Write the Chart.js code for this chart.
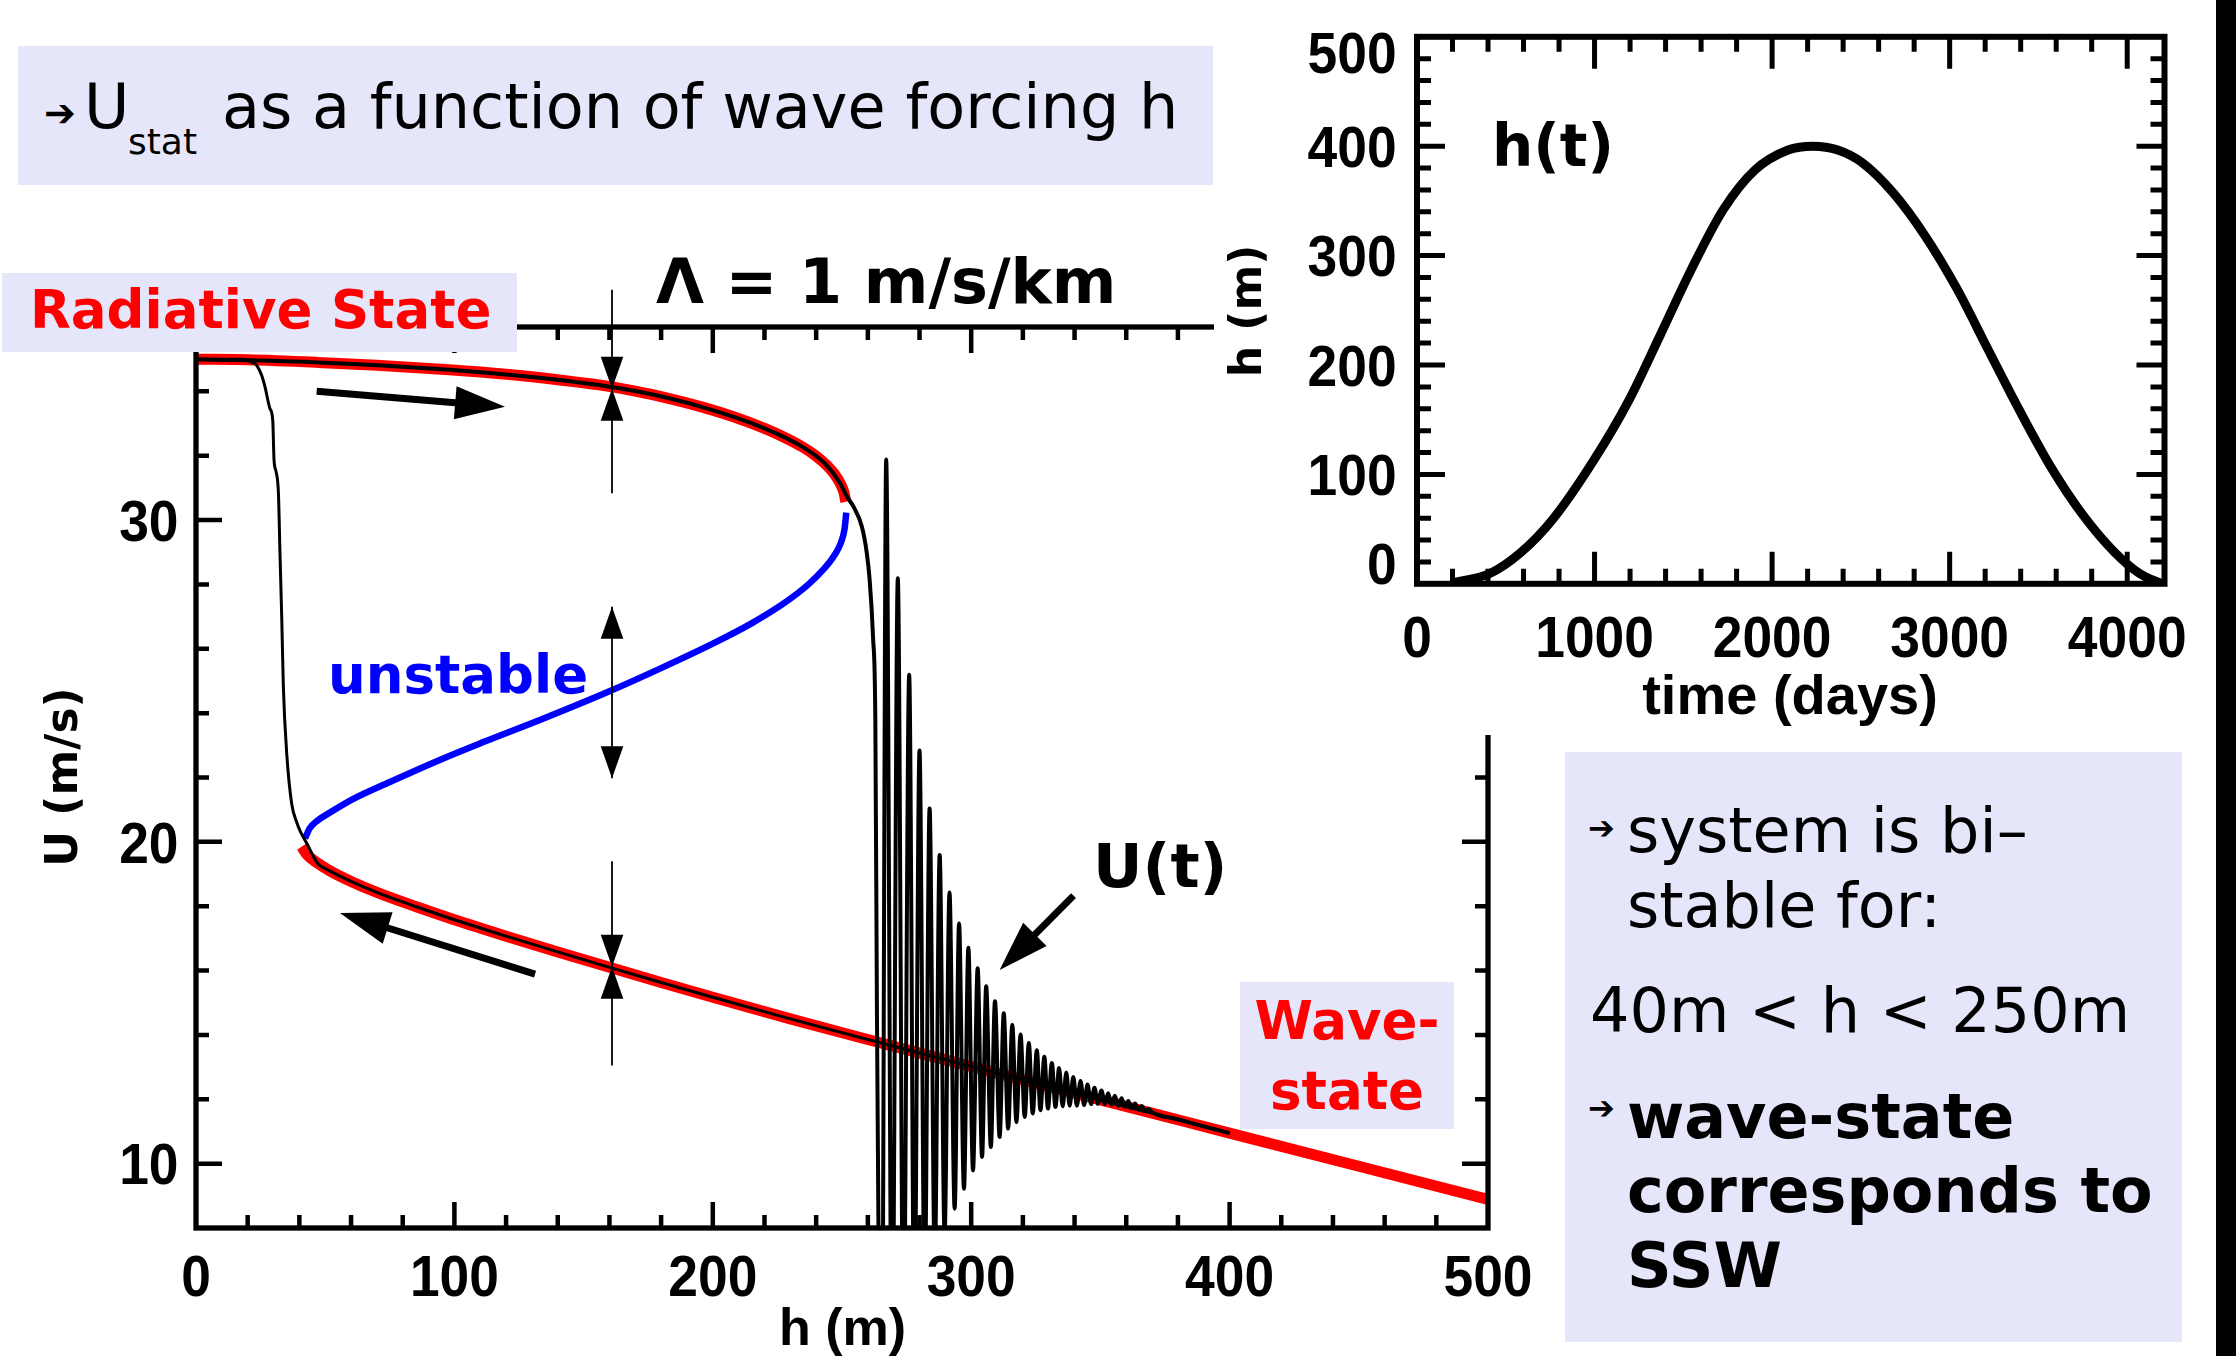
<!DOCTYPE html>
<html><head><meta charset="utf-8">
<script src="https://cdn.jsdelivr.net/npm/chart.js@4.4.1/dist/chart.umd.min.js"></script>
<style>
html,body{margin:0;padding:0;background:#fff;}
body{width:2239px;height:1356px;position:relative;overflow:hidden;font-family:"DejaVu Sans";}
.t{position:absolute;white-space:nowrap;line-height:1;z-index:5;}
.b{font-weight:bold;}
.box{position:absolute;background:#e6e6fa;z-index:4;}
canvas{position:absolute;display:block;}
</style></head><body>
<canvas id="main" width="2239" height="1356" style="left:0;top:0;width:2239px;height:1356px;z-index:1"></canvas>
<div id="insetWrap" style="position:absolute;left:1214px;top:0;width:1025px;height:735px;background:#fff;z-index:2">
  <canvas id="inset" width="1025" height="735" style="left:0;top:0;width:1025px;height:735px"></canvas>
</div>

<div class="box" style="left:18px;top:46px;width:1195px;height:139px"></div>
<div class="t b" style="left:44px;top:94px;font-size:38px">➔</div>
<div class="t" style="left:84px;top:75.5px;font-size:62px">U</div>
<div class="t" style="left:128px;top:123.5px;font-size:36px">stat</div>
<div class="t" style="left:222px;top:75.5px;font-size:62px">as a function of wave forcing h</div>

<div class="box" style="left:2px;top:273px;width:515px;height:79px"></div>
<div class="t b" style="left:30px;top:283px;font-size:53px;color:#ff0000">Radiative State</div>

<div class="t b" style="left:656px;top:251px;font-size:62px">Λ = 1 m/s/km</div>
<div class="t b" style="left:328px;top:648.2px;font-size:53px;color:#0000ff">unstable</div>
<div class="t b" style="left:1093px;top:835.4px;font-size:61px">U(t)</div>

<div class="box" style="left:1240px;top:982px;width:214px;height:147px"></div>
<div class="t b" style="left:1240px;width:214px;text-align:center;top:994.2px;font-size:53px;color:#ff0000">Wave-</div>
<div class="t b" style="left:1240px;width:214px;text-align:center;top:1063.7px;font-size:53px;color:#ff0000">state</div>

<div class="t b" style="left:1492px;top:117px;font-size:58px">h(t)</div>

<div class="box" style="left:1565px;top:752px;width:617px;height:590px"></div>
<div class="t b" style="left:1588px;top:812px;font-size:32px">➔</div>
<div class="t" style="left:1627px;top:799.5px;font-size:62px">system is bi–</div>
<div class="t" style="left:1627px;top:874.5px;font-size:62px">stable for:</div>
<div class="t" style="left:1590px;top:979.5px;font-size:62px">40m &lt; h &lt; 250m</div>
<div class="t b" style="left:1588px;top:1092px;font-size:32px">➔</div>
<div class="t b" style="left:1627px;top:1085.5px;font-size:62px">wave-state</div>
<div class="t b" style="left:1627px;top:1159.5px;font-size:62px">corresponds to</div>
<div class="t b" style="left:1627px;top:1234.5px;font-size:62px">SSW</div>

<div style="position:absolute;left:2216px;top:0;width:20px;height:1356px;background:#000;z-index:6"></div>

<script>
// ---------------- data ----------------
// stable radiative branch (upper, red)
const upperH = [0, 20, 47, 70, 98, 120, 140, 156, 170, 182, 196, 208, 220, 228, 235, 240, 244, 247, 249.3, 250.7, 251.5];
const upperU = [35.0, 34.98, 34.9, 34.81, 34.67, 34.53, 34.36, 34.2, 34.01, 33.8, 33.51, 33.21, 32.85, 32.56, 32.26, 31.99, 31.71, 31.44, 31.14, 30.87, 30.57];
// unstable branch (blue)
const unstableH = [42.2, 44, 47, 52, 60, 75, 95, 111.2, 135, 160, 180, 200, 215, 228, 237, 243, 247, 249.5, 251, 251.65];
const unstableU = [20.11, 20.42, 20.66, 20.92, 21.3, 21.86, 22.57, 23.1, 23.85, 24.68, 25.4, 26.16, 26.79, 27.44, 28.0, 28.48, 28.9, 29.28, 29.73, 30.23];
// stable wave branch (lower, red)
const lowerH = [40.9, 43, 47, 52, 60, 70, 85, 100, 120, 140, 160, 180, 200, 230, 257, 300, 350, 400, 450, 500];
const lowerU = [19.85, 19.6, 19.34, 19.09, 18.77, 18.43, 17.99, 17.58, 17.07, 16.58, 16.1, 15.63, 15.17, 14.5, 13.92, 13.02, 11.98, 10.95, 9.92, 8.89];
// U(t) trajectory, h increasing: radiative branch and the collapse
const fwdH = [0, 47, 98, 140, 170, 196, 220, 235, 244, 249.3, 251.9, 254.5, 257.7, 259.6, 260.7, 262.0, 262.9, 263.5, 264.2, 265.4];
const fwdU = [35.0, 34.9, 34.67, 34.36, 34.01, 33.51, 32.85, 32.26, 31.71, 31.14, 30.73, 30.41, 29.79, 28.97, 28.14, 26.38, 23.79, 15.0, 7.0, 2.0];
// decaying oscillation (alternating peak / trough)
const oscH = [267.1, 269.4, 271.6, 273.8, 276.0, 278.0, 280.0, 282.0, 283.9, 285.9, 287.8, 289.7, 291.6, 293.6, 295.3, 297.2, 298.9, 300.7, 302.5, 304.2,
              305.8, 307.6, 309.2, 311.0, 312.6, 314.3, 315.9, 317.5, 319.1, 320.7, 322.3, 323.8, 325.4, 326.8, 328.3, 329.7, 331.2, 332.6, 334.0, 335.4,
              336.8, 338.1, 339.5, 340.9, 342.3, 343.7, 345.0, 346.4, 347.7, 349.0, 350.4, 351.7, 353.0, 354.3, 355.6, 356.9, 358.2, 359.5, 360.8, 362.1,
              363.4, 364.7, 366.0, 367.3, 368.6];
const oscU = [31.88, 3.0, 28.19, 4.0, 25.19, 5.0, 22.84, 6.0, 21.04, 6.9, 19.59, 7.8, 18.43, 8.6, 17.46, 9.22, 16.71, 9.79, 16.07, 10.21,
              15.51, 10.52, 15.05, 10.83, 14.67, 11.09, 14.32, 11.29, 14.01, 11.45, 13.75, 11.56, 13.52, 11.66, 13.32, 11.71, 13.13, 11.76, 12.97, 11.78,
              12.83, 11.8, 12.69, 11.8, 12.57, 11.82, 12.46, 11.85, 12.36, 11.86, 12.27, 11.85, 12.19, 11.83, 12.11, 11.8, 12.03, 11.76, 11.95, 11.72,
              11.87, 11.68, 11.79, 11.63, 11.7];
const tailH = [370, 380, 390, 400];
const tailU = [11.6, 11.38, 11.16, 10.95];
// U(t) return path (h decreasing, listed by increasing h)
const retH = [0, 18, 19.6, 22.2, 23.5, 25.4, 26.7, 28.6, 29.7, 30.2, 31.0, 31.9, 32.5, 33.2, 33.8, 35.1, 37.0, 39.0, 40.5, 42.9,
              47, 52, 60, 70, 85, 100, 120, 140, 160, 180, 200, 230, 257, 300, 350, 400];
const retU = [35.0, 35.0, 34.97, 34.88, 34.81, 34.5, 34.14, 33.47, 33.1, 31.86, 31.5, 30.83, 28.97, 26.9, 24.83, 22.76, 21.2, 20.6, 20.3, 19.95,
              19.34, 19.09, 18.77, 18.43, 17.99, 17.58, 17.07, 16.58, 16.1, 15.63, 15.17, 14.5, 13.92, 13.02, 11.98, 10.95];
// annotation arrows (data units: h, U)
const bigArrows = [
  {from: [46.7, 34.0], to: [119.6, 33.52]},
  {from: [131.2, 15.89], to: [55.7, 17.79]},
  {from: [339.6, 18.33], to: [311.0, 16.02]}
];
const markerH = 161;
const markerSegments = [[37.16, 30.83], [27.31, 21.98], [19.4, 13.05]];
const markerTips = [[34.08, 1], [34.08, -1], [27.31, -1], [21.98, 1], [16.12, 1], [16.12, -1]]; // +1 points down, -1 points up
const hAxisLabels = [0, 100, 200, 300, 400, 500];
const uAxisLabels = [10, 20, 30];

// inset h(t)
const timeDays = [196, 410, 587, 765, 996, 1191, 1369, 1547, 1725, 1902, 2090, 2230, 2370, 2507, 2684, 2862, 3040, 3217, 3395, 3573, 3750, 3928, 4070, 4195];
const forcingH = [0.8, 9.4, 28.9, 59, 113, 167, 227, 288, 342, 378, 396.5, 400, 396.5, 385, 357, 318, 270, 214, 158, 106, 63, 29, 9.4, 0];
const timeAxisLabels = [0, 1000, 2000, 3000, 4000];
const forcingAxisLabels = [0, 100, 200, 300, 400, 500];

// ---------------- helpers ----------------
const pts = (xs, ys) => xs.map((x, i) => ({x: x, y: ys[i]}));
const TICKFONT = "bold 58px 'Liberation Sans'";

function drawFrame(chart, o) {
  const ctx = chart.ctx, a = chart.chartArea, xs = chart.scales.x, ys = chart.scales.y;
  ctx.save();
  ctx.strokeStyle = '#000'; ctx.fillStyle = '#000'; ctx.lineCap = 'butt';
  ctx.lineWidth = o.tickW;
  ctx.beginPath();
  for (let v = o.xMin + o.xMinorStep; v < o.xMax - 1e-6; v += o.xMinorStep) {
    const px = xs.getPixelForValue(v);
    if (a.right - px < 6) continue;
    const major = Math.abs(v / o.xMajorStep - Math.round(v / o.xMajorStep)) < 1e-6;
    const len = major ? o.xMajorLen : o.xMinorLen;
    ctx.moveTo(px, a.bottom); ctx.lineTo(px, a.bottom - len);
    ctx.moveTo(px, a.top); ctx.lineTo(px, a.top + len);
  }
  for (let v = o.yMin + o.yMinorStep; v < o.yMax - 1e-6; v += o.yMinorStep) {
    const py = ys.getPixelForValue(v);
    const major = Math.abs(v / o.yMajorStep - Math.round(v / o.yMajorStep)) < 1e-6;
    const len = major ? o.yMajorLen : o.yMinorLen;
    ctx.moveTo(a.left, py); ctx.lineTo(a.left + len, py);
    ctx.moveTo(a.right, py); ctx.lineTo(a.right - len, py);
  }
  ctx.stroke();
  ctx.lineWidth = o.axisW;
  ctx.strokeRect(a.left, a.top, a.right - a.left, a.bottom - a.top);
  ctx.font = TICKFONT; ctx.textBaseline = 'alphabetic';
  const capH = 41.5;
  for (const v of o.xLabels) {
    const px = xs.getPixelForValue(v);
    ctx.save(); ctx.translate(px, a.bottom + o.xLabelDY); ctx.scale(o.condense, 1);
    ctx.textAlign = 'center'; ctx.fillText(String(v), 0, 0); ctx.restore();
  }
  for (const v of o.yLabels) {
    let cy = ys.getPixelForValue(v);
    cy = Math.min(Math.max(cy, a.top + capH / 2 - 5), a.bottom - capH / 2);
    ctx.save(); ctx.translate(a.left - o.yLabelGap, cy + capH / 2); ctx.scale(o.condense, 1);
    ctx.textAlign = 'right'; ctx.fillText(String(v), 0, 0); ctx.restore();
  }
  for (const t of o.titles) {
    ctx.save(); ctx.font = t.font; ctx.textAlign = 'center'; ctx.textBaseline = 'alphabetic';
    ctx.translate(t.x, t.y);
    if (t.rot) ctx.rotate(-Math.PI / 2);
    ctx.fillText(t.text, 0, 0); ctx.restore();
  }
  ctx.restore();
}

function thickArrow(ctx, x1, y1, x2, y2, shaftW, headLen, headHalf) {
  const dx = x2 - x1, dy = y2 - y1, L = Math.hypot(dx, dy), ux = dx / L, uy = dy / L;
  const bx = x2 - ux * headLen, by = y2 - uy * headLen;
  ctx.lineWidth = shaftW; ctx.lineCap = 'butt';
  ctx.beginPath(); ctx.moveTo(x1, y1); ctx.lineTo(bx + ux * 3, by + uy * 3); ctx.stroke();
  ctx.beginPath(); ctx.moveTo(x2, y2);
  ctx.lineTo(bx - uy * headHalf, by + ux * headHalf);
  ctx.lineTo(bx + uy * headHalf, by - ux * headHalf);
  ctx.closePath(); ctx.fill();
}

const mainDecor = {
  id: 'mainDecor',
  afterDatasetsDraw(chart) {
    const ctx = chart.ctx, xs = chart.scales.x, ys = chart.scales.y;
    ctx.save();
    ctx.strokeStyle = '#000'; ctx.fillStyle = '#000';
    const mx = xs.getPixelForValue(markerH);
    ctx.lineWidth = 1.8;
    ctx.beginPath();
    for (const s of markerSegments) { ctx.moveTo(mx, ys.getPixelForValue(s[0])); ctx.lineTo(mx, ys.getPixelForValue(s[1])); }
    ctx.stroke();
    for (const m of markerTips) {
      const ty = ys.getPixelForValue(m[0]);
      const by = ty - m[1] * 32;
      ctx.beginPath(); ctx.moveTo(mx, ty); ctx.lineTo(mx - 11.3, by); ctx.lineTo(mx + 11.3, by); ctx.closePath(); ctx.fill();
    }
    for (const ar of bigArrows) {
      thickArrow(ctx, xs.getPixelForValue(ar.from[0]), ys.getPixelForValue(ar.from[1]),
                 xs.getPixelForValue(ar.to[0]), ys.getPixelForValue(ar.to[1]), 7, 50, 16.5);
    }
    ctx.restore();
    drawFrame(chart, {
      xMin: 0, xMax: 500, xMinorStep: 20, xMajorStep: 100, xMajorLen: 26, xMinorLen: 13,
      yMin: 8, yMax: 36, yMinorStep: 2, yMajorStep: 10, yMajorLen: 26, yMinorLen: 13,
      tickW: 4.5, axisW: 5.3, condense: 0.92, xLabelDY: 68, yLabelGap: 17.5,
      xLabels: hAxisLabels, yLabels: uAxisLabels,
      titles: [
        {text: 'h (m)', font: "bold 52px 'Liberation Sans'", x: 842.5, y: 1345},
        {text: 'U (m/s)', font: "bold 44px 'DejaVu Sans'", x: 77, y: 777, rot: true}
      ]
    });
  }
};

const insetDecor = {
  id: 'insetDecor',
  afterDatasetsDraw(chart) {
    drawFrame(chart, {
      xMin: 0, xMax: 4210, xMinorStep: 200, xMajorStep: 1000, xMajorLen: 32, xMinorLen: 15,
      yMin: 0, yMax: 500, yMinorStep: 20, yMajorStep: 100, yMajorLen: 28, yMinorLen: 14,
      tickW: 5, axisW: 6, condense: 0.92, xLabelDY: 73, yLabelGap: 20.4,
      xLabels: timeAxisLabels, yLabels: forcingAxisLabels,
      titles: [
        {text: 'time (days)', font: "bold 56px 'Liberation Sans'", x: 576, y: 714},
        {text: 'h (m)', font: "bold 44px 'DejaVu Sans'", x: 47, y: 311, rot: true}
      ]
    });
  }
};

const commonOpts = {
  responsive: false, animation: false, events: [],
  plugins: {legend: {display: false}, tooltip: {enabled: false}, title: {display: false}}
};

new Chart(document.getElementById('main'), {
  type: 'scatter',
  data: {datasets: [
    {label: 'U(t)', data: pts(fwdH.concat(oscH, tailH), fwdU.concat(oscU, tailU)), showLine: true,
     borderColor: '#000', borderWidth: 4, pointRadius: 0, cubicInterpolationMode: 'monotone', borderJoinStyle: 'round', order: 0},
    {label: 'U(t) return', data: pts(retH, retU), showLine: true,
     borderColor: '#000', borderWidth: 3, pointRadius: 0, cubicInterpolationMode: 'monotone', borderJoinStyle: 'round', order: 1},
    {label: 'unstable', data: pts(unstableH, unstableU), showLine: true,
     borderColor: '#0000ff', borderWidth: 6.5, pointRadius: 0, cubicInterpolationMode: 'monotone', order: 2},
    {label: 'radiative state', data: pts(upperH, upperU), showLine: true,
     borderColor: '#ff0000', borderWidth: 11, pointRadius: 0, cubicInterpolationMode: 'monotone', order: 3},
    {label: 'wave state', data: pts(lowerH, lowerU), showLine: true,
     borderColor: '#ff0000', borderWidth: 11, pointRadius: 0, cubicInterpolationMode: 'monotone', order: 4}
  ]},
  options: Object.assign({}, commonOpts, {
    layout: {padding: {left: 196, top: 327, right: 751, bottom: 128}},
    scales: {
      x: {type: 'linear', min: 0, max: 500, display: false},
      y: {type: 'linear', min: 8, max: 36, display: false}
    }
  }),
  plugins: [mainDecor]
});

new Chart(document.getElementById('inset'), {
  type: 'scatter',
  data: {datasets: [
    {label: 'h(t)', data: pts(timeDays, forcingH), showLine: true,
     borderColor: '#000', borderWidth: 9, pointRadius: 0, cubicInterpolationMode: 'monotone'}
  ]},
  options: Object.assign({}, commonOpts, {
    layout: {padding: {left: 203, top: 36.8, right: 74.5, bottom: 151.2}},
    scales: {
      x: {type: 'linear', min: 0, max: 4210, display: false},
      y: {type: 'linear', min: 0, max: 500, display: false}
    }
  }),
  plugins: [insetDecor]
});
</script>
</body></html>
